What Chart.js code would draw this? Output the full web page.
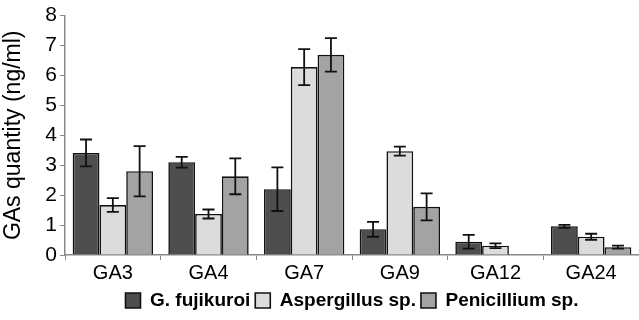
<!DOCTYPE html>
<html>
<head>
<meta charset="utf-8">
<script src="https://cdn.jsdelivr.net/npm/chart.js@4"></script>
<style>
  html, body { margin: 0; padding: 0; background: #fff; }
  #wrap { width: 639px; height: 320px; }
</style>
</head>
<body>
<div id="wrap"><canvas id="chart" width="639" height="320"></canvas></div>
<script>
// categories and series
const categories = ['GA3', 'GA4', 'GA7', 'GA9', 'GA12', 'GA24'];
const fujikuroi = [3.41, 3.10, 2.20, 0.86, 0.44, 0.96];
const fujikuroiErr = [0.45, 0.18, 0.73, 0.25, 0.23, 0.05];
const aspergillus = [1.67, 1.37, 6.28, 3.47, 0.31, 0.61];
const aspergillusErr = [0.23, 0.15, 0.60, 0.15, 0.08, 0.10];
const penicillium = [2.80, 2.63, 6.69, 1.61, 0, 0.26];
const penicilliumErr = [0.84, 0.60, 0.56, 0.45, 0, 0.05];
const yTicks = [0, 1, 2, 3, 4, 5, 6, 7, 8];

const FONT = 'Liberation Sans, Arial, sans-serif';

const errorBars = {
    id: 'errorBars',
    afterDatasetsDraw(chart) {
        const ctx = chart.ctx;
        const y = chart.scales.y;
        ctx.save();
        ctx.strokeStyle = '#111';
        ctx.lineWidth = 1.8;
        chart.data.datasets.forEach((ds, i) => {
            const meta = chart.getDatasetMeta(i);
            meta.data.forEach((bar, j) => {
                const e = ds.errors[j];
                if (!e) return;
                const v = ds.data[j];
                const top = y.getPixelForValue(v + e);
                const bot = y.getPixelForValue(v - e);
                ctx.beginPath();
                ctx.moveTo(bar.x, top); ctx.lineTo(bar.x, bot);
                ctx.moveTo(bar.x - 6, top); ctx.lineTo(bar.x + 6, top);
                ctx.moveTo(bar.x - 6, bot); ctx.lineTo(bar.x + 6, bot);
                ctx.stroke();
            });
        });
        ctx.restore();
    }
};

function makeSet(label, data, errors, color) {
    return {
        label: label,
        data: data,
        errors: errors,
        backgroundColor: color,
        borderColor: '#111',
        borderWidth: 1.6,
        categoryPercentage: 0.84,
        barPercentage: 1.0
    };
}

new Chart(document.getElementById('chart'), {
    type: 'bar',
    data: {
        labels: categories,
        datasets: [
            makeSet('G. fujikuroi', fujikuroi, fujikuroiErr, '#4e4e4e'),
            makeSet('Aspergillus sp.', aspergillus, aspergillusErr, '#dcdcdc'),
            makeSet('Penicillium sp.', penicillium, penicilliumErr, '#a3a3a3')
        ]
    },
    plugins: [errorBars],
    options: {
        responsive: false,
        animation: false,
        layout: { padding: { top: 6, right: 0, left: 0, bottom: 0 } },
        plugins: {
            legend: {
                position: 'bottom',
                fullSize: false,
                labels: {
                    color: '#000',
                    boxWidth: 15,
                    boxHeight: 15,
                    padding: 5,
                    font: { family: FONT, size: 19, weight: 'bold' }
                }
            },
            tooltip: { enabled: false }
        },
        scales: {
            x: {
                grid: { offset: true, drawOnChartArea: false, color: '#888', tickLength: 5 },
                border: { color: '#888', width: 1.5 },
                ticks: { color: '#000', padding: 1, font: { family: FONT, size: 20 } }
            },
            y: {
                min: 0,
                max: 8,
                afterBuildTicks: s => { s.ticks = yTicks.map(v => ({ value: v })); },
                afterFit: s => { s.width = 65; },
                grid: { drawOnChartArea: false, color: '#888', tickLength: 5 },
                border: { color: '#888', width: 1.5 },
                ticks: { color: '#000', padding: 3, font: { family: FONT, size: 21 } },
                title: {
                    display: true,
                    text: 'GAs quantity (ng/ml)',
                    color: '#000',
                    padding: 0,
                    font: { family: FONT, size: 23 }
                }
            }
        }
    }
});
</script>
</body>
</html>
